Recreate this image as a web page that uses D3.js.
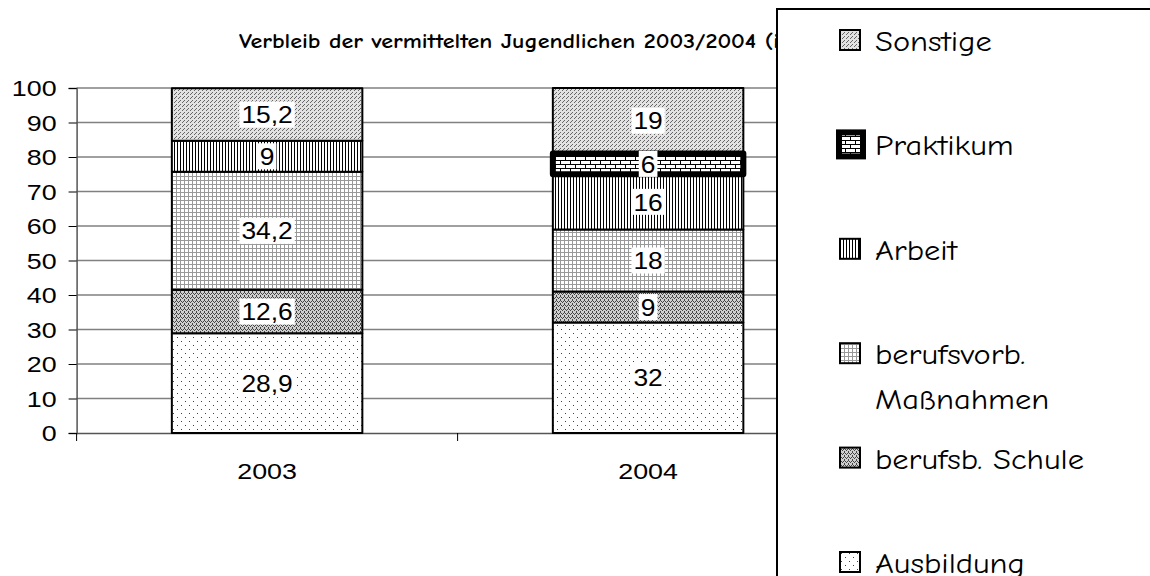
<!DOCTYPE html>
<html>
<head>
<meta charset="utf-8">
<script src="https://cdn.jsdelivr.net/npm/d3@7"></script>
<style>
  body { margin: 0; background: #fff; overflow: hidden; }
  svg { display: block; }
  .tick-label { font-family: "Liberation Sans", Arial, sans-serif; font-size: 22px; fill: #000; }
  .seg-label { font-family: "Liberation Sans", Arial, sans-serif; font-size: 24px; fill: #000; }
  .comic { font-family: "Comic Sans MS", "Comic Neue", "DejaVu Sans", sans-serif; }
</style>
</head>
<body>
<div id="cnv"></div>
<script>
var width = 1150,
    height = 576;

// data
var years = ["2003", "2004"];
var series = ["Ausbildung", "berufsb. Schule", "berufsvorb. Maßnahmen", "Arbeit", "Praktikum", "Sonstige"];
var values2003 = [28.9, 12.6, 34.2, 9, null, 15.2];
var values2004 = [32, 9, 18, 16, 6, 19];
var yTicks = [0, 10, 20, 30, 40, 50, 60, 70, 80, 90, 100];
var labels2003 = ["28,9", "12,6", "34,2", "9", "", "15,2"];
var labels2004 = ["32", "9", "18", "16", "6", "19"];
var legendOrder = ["Sonstige", "Praktikum", "Arbeit", "berufsvorb. Maßnahmen", "berufsb. Schule", "Ausbildung"];
var title = "Verbleib der vermittelten Jugendlichen 2003/2004 (in %)";

var margin = {top: 88, left: 76.6, right: width - 838.6, bottom: height - 433};

var svg = d3.select("#cnv").append("svg")
  .attr("width", width)
  .attr("height", height);

// fill patterns
var defs = svg.append("defs");
function pattern(id, w, h, bg) {
  var p = defs.append("pattern")
    .attr("id", id)
    .attr("patternUnits", "userSpaceOnUse")
    .attr("width", w)
    .attr("height", h)
    .attr("shape-rendering", "crispEdges");
  p.append("rect").attr("width", w).attr("height", h).attr("fill", bg);
  return p;
}
function dots(p, pts, col) {
  pts.forEach(function(d) {
    p.append("rect").attr("x", d[0]).attr("y", d[1]).attr("width", 1).attr("height", 1).attr("fill", col);
  });
}
// Ausbildung: sparse dots
dots(pattern("p0", 8, 8, "#fff"), [[1, 1], [5, 5]], "#444");
// berufsb. Schule: wavy texture
dots(pattern("p1", 4, 4, "#cfcfcf"), [[0, 0], [1, 1], [2, 2], [3, 1], [0, 3]], "#444");
// berufsvorb. Massnahmen: small grid
var p2 = pattern("p2", 4, 4, "#fff");
p2.append("rect").attr("x", 0).attr("y", 0).attr("width", 4).attr("height", 1).attr("fill", "#999");
p2.append("rect").attr("x", 0).attr("y", 0).attr("width", 1).attr("height", 4).attr("fill", "#999");
// Arbeit: vertical lines
var p3 = pattern("p3", 3, 3, "#fff");
p3.append("rect").attr("x", 0).attr("y", 0).attr("width", 1).attr("height", 3).attr("fill", "#000");
// Praktikum: bricks
var p4 = pattern("p4", 10, 8, "#fff");
p4.append("rect").attr("x", 0).attr("y", 0).attr("width", 10).attr("height", 1).attr("fill", "#000");
p4.append("rect").attr("x", 0).attr("y", 4).attr("width", 10).attr("height", 1).attr("fill", "#000");
p4.append("rect").attr("x", 0).attr("y", 0).attr("width", 1).attr("height", 4).attr("fill", "#000");
p4.append("rect").attr("x", 5).attr("y", 4).attr("width", 1).attr("height", 4).attr("fill", "#000");
// Sonstige: light stipple
dots(pattern("p5", 4, 4, "#e2e2e2"), [[0, 0], [2, 2], [3, 1]], "#666");

var fills = {};
series.forEach(function(s, i) { fills[s] = "url(#p" + i + ")"; });

var xScale = d3.scaleBand()
  .domain(years)
  .range([margin.left, width - margin.right])
  .paddingInner(0.5)
  .paddingOuter(0.25);
var yScale = d3.scaleLinear()
  .domain([0, 100])
  .range([height - margin.bottom, margin.top]);

// title (partly hidden behind the legend, like the original)
svg.append("text")
  .attr("class", "comic")
  .attr("transform", "translate(239,48) scale(1.2,1)")
  .attr("font-size", "20px")
  .attr("font-weight", "bold")
  .text(title);

// gridlines
svg.append("g")
  .selectAll("line")
  .data(yTicks.filter(function(d) { return d > 0; }))
  .enter().append("line")
    .attr("x1", margin.left)
    .attr("x2", width - margin.right)
    .attr("y1", function(d) { return yScale(d); })
    .attr("y2", function(d) { return yScale(d); })
    .attr("stroke", "#808080")
    .attr("stroke-width", 1.3);

// y axis
var yAxis = svg.append("g")
  .attr("transform", "translate(" + margin.left + ",0)")
  .call(d3.axisLeft(yScale).tickValues(yTicks).tickSize(8));
yAxis.select(".domain").attr("stroke", "#555").attr("stroke-width", 1.5);
yAxis.selectAll(".tick line").attr("stroke", "#000");
yAxis.selectAll(".tick text")
  .attr("class", "tick-label")
  .attr("font-family", null).attr("font-size", null)
  .attr("x", null).attr("dy", "0.36em")
  .attr("transform", "translate(-20,0) scale(1.22,1)");

// x axis
var xAxis = svg.append("g")
  .attr("transform", "translate(0," + yScale(0) + ")")
  .call(d3.axisBottom(xScale).tickSize(0).tickPadding(0));
xAxis.select(".domain").attr("stroke", "#555").attr("stroke-width", 1.5);
xAxis.selectAll(".tick text")
  .attr("class", "tick-label")
  .attr("font-family", null).attr("font-size", null)
  .attr("y", 0).attr("dy", "0.36em")
  .attr("transform", "translate(0,38) scale(1.22,1)");
xAxis.selectAll(".bound")
  .data(d3.range(years.length + 1))
  .enter().append("line")
    .attr("x1", function(i) { return margin.left + i * xScale.step(); })
    .attr("x2", function(i) { return margin.left + i * xScale.step(); })
    .attr("y1", 0)
    .attr("y2", 8)
    .attr("stroke", "#000");

// stacked segments
var table = years.map(function(y, i) {
  var row = {year: y};
  var vals = i === 0 ? values2003 : values2004;
  var labs = i === 0 ? labels2003 : labels2004;
  series.forEach(function(s, j) { row[s] = vals[j] || 0; row["lab_" + s] = labs[j]; row["has_" + s] = vals[j] != null; });
  return row;
});
var stacked = d3.stack().keys(series)(table);

var segs = [];
stacked.forEach(function(layer) {
  layer.forEach(function(d) {
    if (d.data["has_" + layer.key]) {
      segs.push({key: layer.key, year: d.data.year, y0: d[0], y1: d[1], label: d.data["lab_" + layer.key]});
    }
  });
});

var bars = svg.append("g");
bars.selectAll("rect")
  .data(segs)
  .enter().append("rect")
    .attr("x", function(d) { return xScale(d.year); })
    .attr("y", function(d) { return yScale(d.y1); })
    .attr("width", xScale.bandwidth())
    .attr("height", function(d) { return yScale(d.y0) - yScale(d.y1); })
    .attr("fill", function(d) { return fills[d.key]; })
    .attr("stroke", "#000")
    .attr("stroke-linejoin", "round")
    .attr("stroke-width", function(d) { return d.key === "Praktikum" ? 6 : 2; });
bars.selectAll("rect").filter(function(d) { return d.key === "Praktikum"; }).raise();

// segment labels with white boxes
var labs = svg.append("g");
segs.forEach(function(d) {
  var cx = xScale(d.year) + xScale.bandwidth() / 2,
      cy = yScale((d.y0 + d.y1) / 2);
  var g = labs.append("g").attr("transform", "translate(" + cx + "," + cy + ")");
  var bg = g.append("rect").attr("fill", "#fff");
  var t = g.append("text")
    .attr("class", "seg-label")
    .attr("text-anchor", "middle")
    .attr("dy", "0.36em")
    .attr("transform", "scale(1.1,1)")
    .text(d.label);
  var bb = t.node().getBBox();
  bg.attr("x", bb.x * 1.1 - 2).attr("y", -13).attr("width", bb.width * 1.1 + 4).attr("height", 26);
});

// legend box
var legX = 777, legY = 9;
svg.append("rect")
  .attr("x", legX)
  .attr("y", legY)
  .attr("width", 420)
  .attr("height", 620)
  .attr("fill", "#fff")
  .attr("stroke", "#000")
  .attr("stroke-width", 2);

var legend = svg.append("g");
legendOrder.forEach(function(s, i) {
  var cy = 40 + i * 104.4;
  var thick = s === "Praktikum";
  legend.append("rect")
    .attr("x", thick ? 839 : 840)
    .attr("y", cy - (thick ? 12 : 10))
    .attr("width", thick ? 24 : 20)
    .attr("height", thick ? 24 : 20)
    .attr("fill", fills[s])
    .attr("stroke", "#000")
    .attr("stroke-width", thick ? 6 : 2);
  var words = s === "berufsvorb. Maßnahmen" ? ["berufsvorb.", "Maßnahmen"] : [s];
  var t = legend.append("text")
    .attr("class", "comic")
    .attr("font-size", "29px")
    .attr("transform", "translate(875," + (cy + 11) + ") scale(1.12,1)");
  words.forEach(function(w, k) {
    t.append("tspan").attr("x", 0).attr("dy", k === 0 ? 0 : 45).text(w);
  });
});
</script>
</body>
</html>
